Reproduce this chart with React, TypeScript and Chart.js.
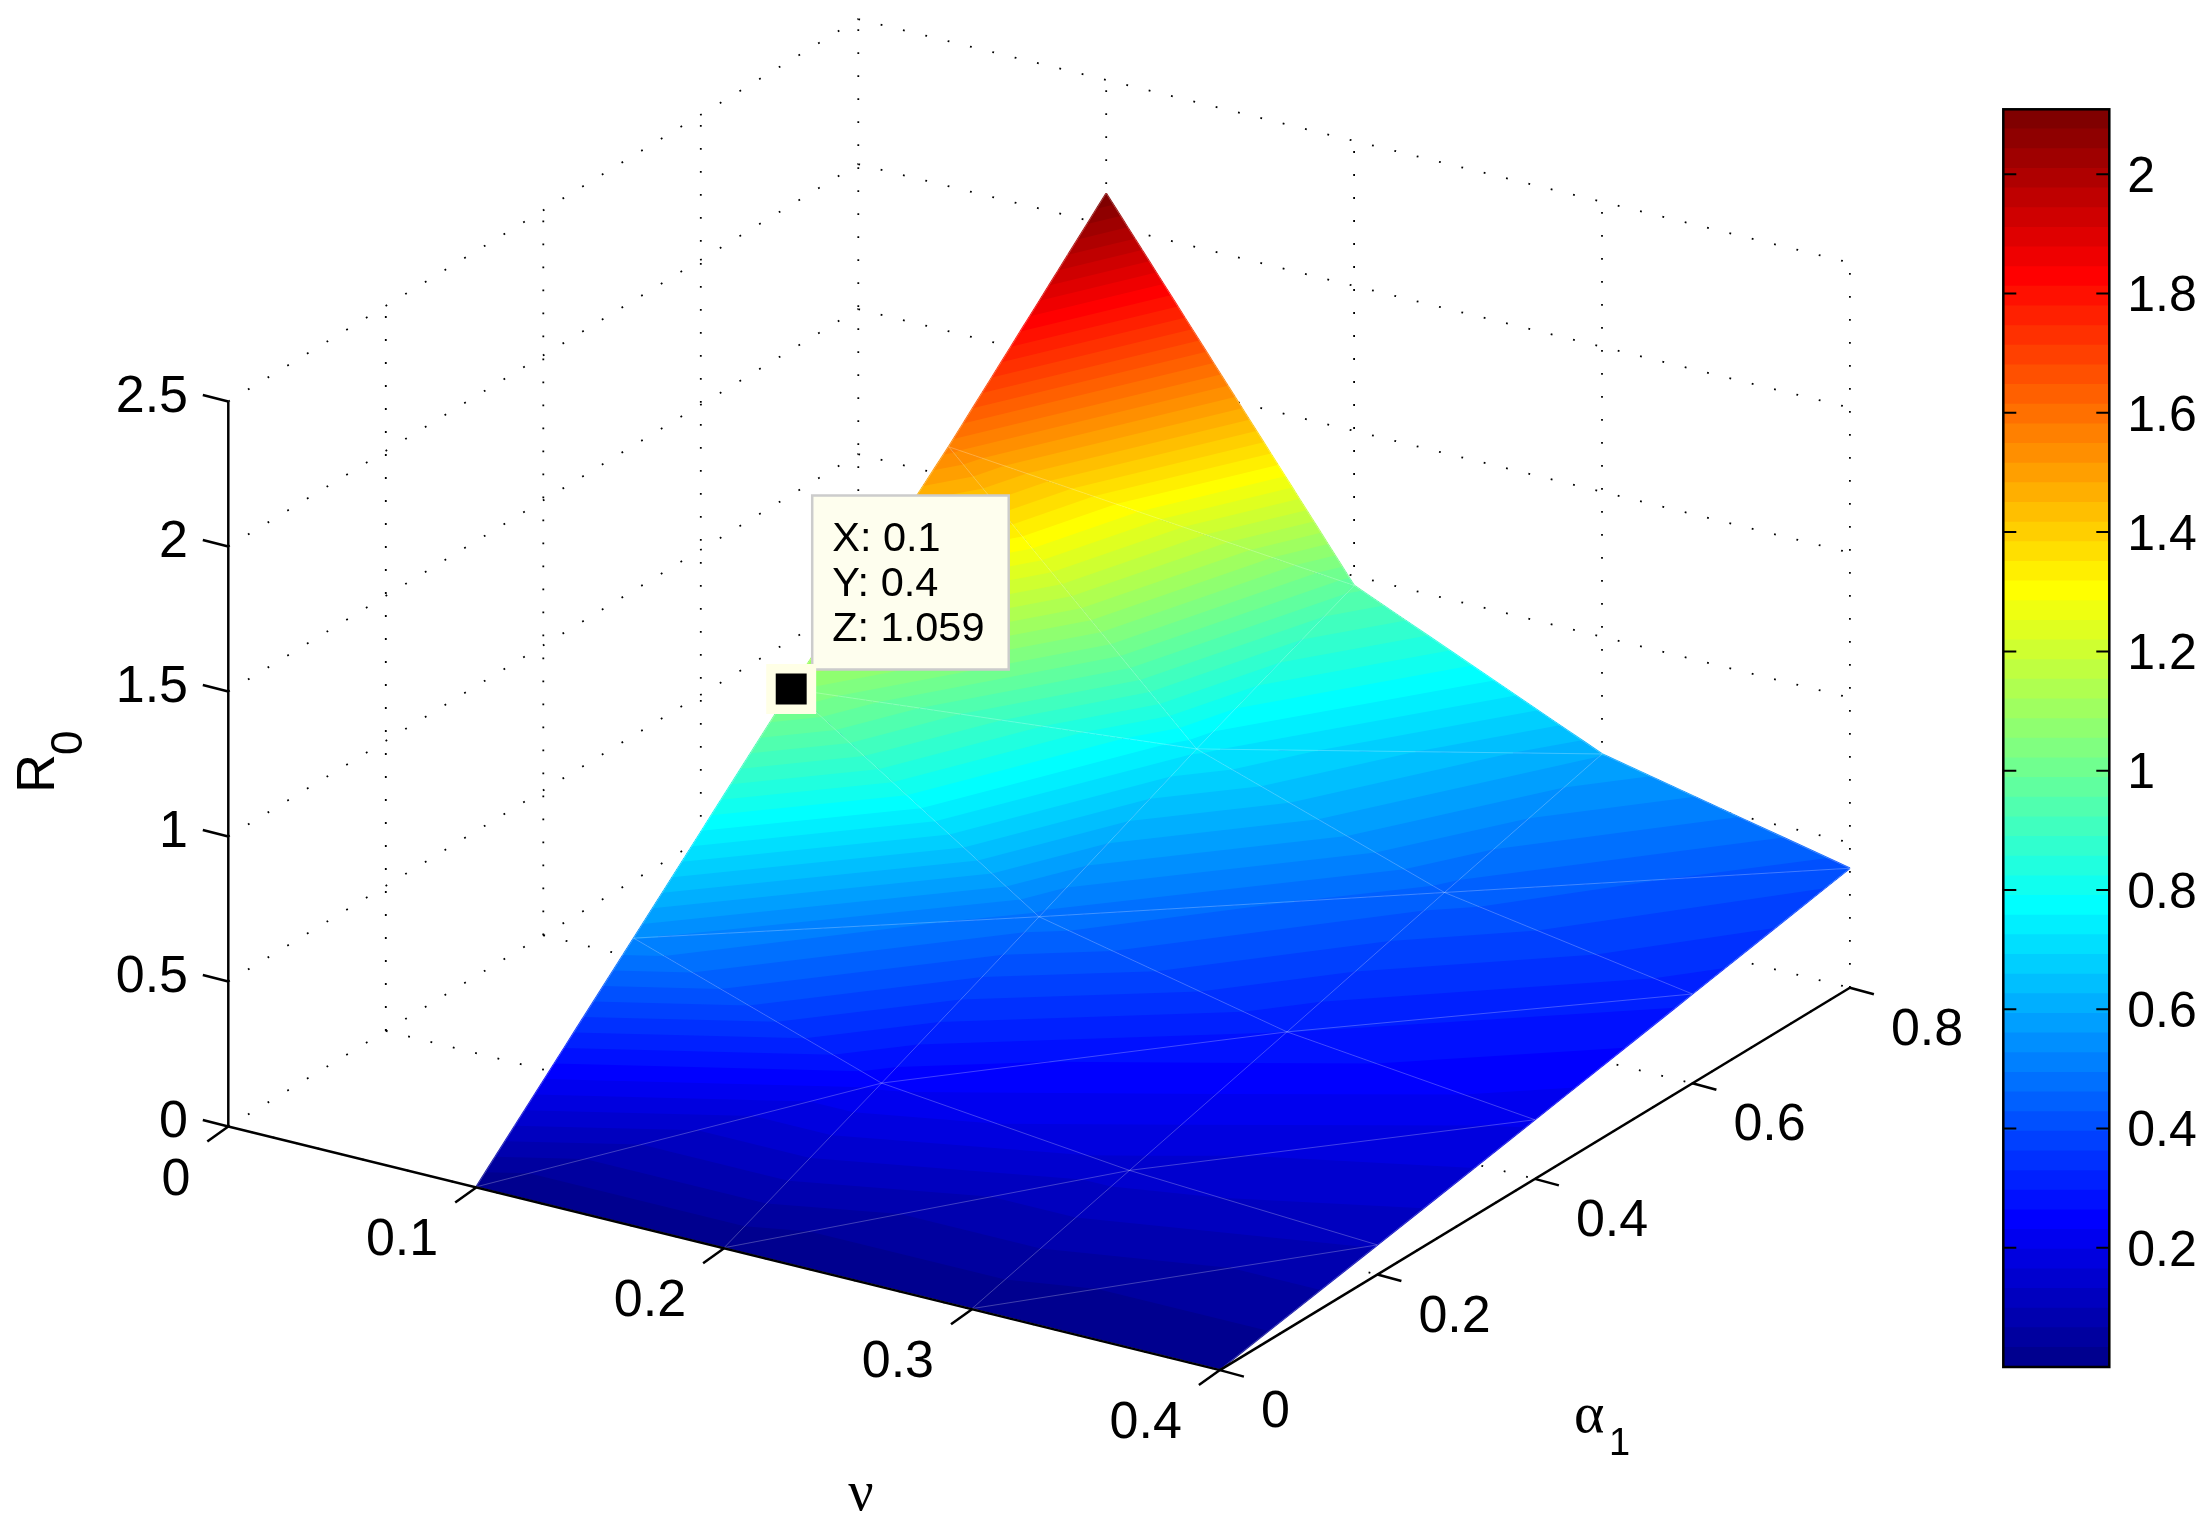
import { useEffect, useRef } from 'react';
import { Chart, registerables } from 'chart.js';

Chart.register(...registerables);

const SANS = '"Liberation Sans", Arial, sans-serif';
const SERIF = '"Liberation Serif", serif';

// axis ticks
const nuTicks = [0, 0.1, 0.2, 0.3, 0.4];
const alphaTicks = [0, 0.2, 0.4, 0.6, 0.8];
const zTicks = [0, 0.5, 1, 1.5, 2, 2.5];
const colorbarTicks = [0.2, 0.4, 0.6, 0.8, 1, 1.2, 1.4, 1.6, 1.8, 2];

// surface grid
const nuGrid = [0.1, 0.2, 0.3, 0.4];
const alphaGrid = [0, 0.2, 0.4, 0.6, 0.8];
const r0AtNu1 = [0.002, 0.53, 1.059, 1.565, 2.109];
const r0AtNu2 = [0.002, 0.24, 0.484, 0.733, 0.967];
const r0AtNu3 = [0.002, 0.149, 0.297, 0.448, 0.596];
const r0AtNu4 = [0.002, 0.102, 0.204, 0.308, 0.412];
const r0Rows = [r0AtNu1, r0AtNu2, r0AtNu3, r0AtNu4];

// the data tip
const tipPoint = { nu: 0.1, alpha: 0.4, z: 1.059 };
const tipLines = ['X: 0.1', 'Y: 0.4', 'Z: 1.059'];

const C_MIN = 0;
const C_MAX = 2.109;
const LEVELS = 64;
const LEVEL_STEP = (C_MAX - C_MIN) / LEVELS;

// matlab style jet, k = 1..64
function jetChannel(i: number) {
  if (i < 1 || i > 47) return 0;
  if (i <= 16) return i / 16;
  if (i <= 31) return 1;
  return (48 - i) / 16;
}

function jet(k: number) {
  const r = jetChannel(k - 24);
  const g = jetChannel(k - 8);
  const b = jetChannel(k + 8);
  return `rgb(${Math.round(r * 255)},${Math.round(g * 255)},${Math.round(b * 255)})`;
}

// fixed 3d view, orthographic
function project(nu: number, alpha: number, z: number) {
  return {
    x: 228.3 + 2479 * nu + 787.5 * alpha,
    y: 1126.5 + 609 * nu - 478 * alpha - 290 * z,
  };
}

type Pt = { x: number; y: number };
type Vtx = Pt & { z: number };

function line(label: string, data: Pt[], style: any) {
  return { label, data, showLine: true, pointRadius: 0, fill: false, ...style };
}

const Z_TOP = zTicks[zTicks.length - 1];
const NU_MAX = nuTicks[nuTicks.length - 1];
const ALPHA_MAX = alphaTicks[alphaTicks.length - 1];

function gridDatasets() {
  const dotted = { borderColor: '#000', borderWidth: 1.8, borderDash: [1.8, 21.2], order: 5 };
  const out: any[] = [];
  // floor
  nuTicks.forEach((nu) => out.push(line('grid', [project(nu, 0, 0), project(nu, ALPHA_MAX, 0)], dotted)));
  alphaTicks.forEach((a) => out.push(line('grid', [project(0, a, 0), project(NU_MAX, a, 0)], dotted)));
  // back walls
  zTicks.slice(1).forEach((z) => {
    out.push(line('grid', [project(0, 0, z), project(0, ALPHA_MAX, z)], dotted));
    out.push(line('grid', [project(0, ALPHA_MAX, z), project(NU_MAX, ALPHA_MAX, z)], dotted));
  });
  alphaTicks.slice(1).forEach((a) => out.push(line('grid', [project(0, a, 0), project(0, a, Z_TOP)], dotted)));
  nuTicks.slice(1).forEach((nu) => out.push(line('grid', [project(nu, ALPHA_MAX, 0), project(nu, ALPHA_MAX, Z_TOP)], dotted)));
  return out;
}

function wireDatasets() {
  const wire = { borderColor: 'rgba(255,255,255,0.25)', borderWidth: 1, order: 3 };
  const out: any[] = [];
  const vtx = (i: number, j: number) => project(nuGrid[i], alphaGrid[j], r0Rows[i][j]);
  nuGrid.forEach((_, i) => {
    alphaGrid.forEach((_, j) => {
      if (i + 1 < nuGrid.length) out.push(line('wire', [vtx(i, j), vtx(i + 1, j)], wire));
      if (j + 1 < alphaGrid.length) out.push(line('wire', [vtx(i, j), vtx(i, j + 1)], wire));
      if (i + 1 < nuGrid.length && j + 1 < alphaGrid.length) out.push(line('wire', [vtx(i, j), vtx(i + 1, j + 1)], wire));
    });
  });
  return out;
}

function axisDatasets() {
  const solid = { borderColor: '#000', borderWidth: 2.5, order: 2 };
  const out: any[] = [
    line('axis', [project(0, 0, 0), project(NU_MAX, 0, 0)], solid),
    line('axis', [project(NU_MAX, 0, 0), project(NU_MAX, ALPHA_MAX, 0)], solid),
    line('axis', [project(0, 0, 0), project(0, 0, Z_TOP)], solid),
  ];
  const tick = (p: Pt, dx: number, dy: number) => line('axis', [p, { x: p.x + dx, y: p.y + dy }], solid);
  nuTicks.forEach((nu) => out.push(tick(project(nu, 0, 0), -21, 15)));
  alphaTicks.forEach((a) => out.push(tick(project(NU_MAX, a, 0), 24, 6.5)));
  zTicks.forEach((z) => out.push(tick(project(0, 0, z), -25.5, -6.5)));
  return out;
}

function surfaceVertices() {
  const out: Vtx[] = [];
  nuGrid.forEach((nu, i) => {
    alphaGrid.forEach((a, j) => {
      out.push({ ...project(nu, a, r0Rows[i][j]), z: r0Rows[i][j] });
    });
  });
  return out;
}

// keep the part of a polygon where z >= level
function clipAbove(poly: Vtx[], level: number) {
  const out: Vtx[] = [];
  poly.forEach((a, i) => {
    const b = poly[(i + 1) % poly.length];
    if (a.z >= level) out.push(a);
    if (a.z >= level !== b.z >= level) {
      const t = (level - a.z) / (b.z - a.z);
      out.push({ x: a.x + (b.x - a.x) * t, y: a.y + (b.y - a.y) * t, z: level });
    }
  });
  return out;
}

function fillTriangle(ctx: CanvasRenderingContext2D, tri: Vtx[]) {
  for (let k = 1; k <= LEVELS; k++) {
    const poly = k === 1 ? tri : clipAbove(tri, C_MIN + (k - 1) * LEVEL_STEP);
    if (poly.length < 3) break;
    ctx.beginPath();
    poly.forEach((p, i) => (i ? ctx.lineTo(p.x, p.y) : ctx.moveTo(p.x, p.y)));
    ctx.closePath();
    ctx.fillStyle = jet(k);
    ctx.fill();
  }
}

// repaint a shared edge band by band, the stacked antialiased fills leave it blotchy
function paintEdge(ctx: CanvasRenderingContext2D, a: Vtx, b: Vtx) {
  const [lo, hi] = a.z <= b.z ? [a, b] : [b, a];
  ctx.lineWidth = 1.6;
  for (let k = 1; k <= LEVELS; k++) {
    const z0 = Math.max(C_MIN + (k - 1) * LEVEL_STEP, lo.z);
    const z1 = Math.min(C_MIN + k * LEVEL_STEP, hi.z);
    if (z1 <= z0) continue;
    const t0 = (z0 - lo.z) / (hi.z - lo.z);
    const t1 = (z1 - lo.z) / (hi.z - lo.z);
    ctx.beginPath();
    ctx.moveTo(lo.x + (hi.x - lo.x) * t0, lo.y + (hi.y - lo.y) * t0);
    ctx.lineTo(lo.x + (hi.x - lo.x) * t1, lo.y + (hi.y - lo.y) * t1);
    ctx.strokeStyle = jet(k);
    ctx.stroke();
  }
}

function text(ctx: CanvasRenderingContext2D, s: string, x: number, y: number, font: string, align: CanvasTextAlign = 'left') {
  ctx.font = font;
  ctx.textAlign = align;
  ctx.textBaseline = 'alphabetic';
  ctx.fillStyle = '#000';
  ctx.fillText(s, x, y);
}

const surfacePlugin = {
  id: 'surface',
  afterDatasetDraw(chart: any, args: any) {
    if (chart.data.datasets[args.index].label !== 'R0 surface') return;
    const ctx: CanvasRenderingContext2D = chart.ctx;
    const pts = args.meta.data;
    const rows = nuGrid.length;
    const cols = alphaGrid.length;
    const at = (i: number, j: number): Vtx => {
      const el = pts[i * cols + j];
      return { x: el.x, y: el.y, z: r0Rows[i][j] };
    };
    ctx.save();
    for (let i = 0; i < rows - 1; i++) {
      for (let j = cols - 2; j >= 0; j--) {
        fillTriangle(ctx, [at(i, j), at(i + 1, j), at(i + 1, j + 1)]);
        fillTriangle(ctx, [at(i, j), at(i, j + 1), at(i + 1, j + 1)]);
      }
    }
    for (let i = 0; i < rows; i++) {
      for (let j = 0; j < cols; j++) {
        if (i + 1 < rows) paintEdge(ctx, at(i, j), at(i + 1, j));
        if (j + 1 < cols) paintEdge(ctx, at(i, j), at(i, j + 1));
        if (i + 1 < rows && j + 1 < cols) paintEdge(ctx, at(i, j), at(i + 1, j + 1));
      }
    }
    ctx.restore();
  },
  beforeDatasetDraw(chart: any, args: any) {
    if (chart.data.datasets[args.index].label !== 'data tip') return;
    // the box sits under the marker
    const ctx: CanvasRenderingContext2D = chart.ctx;
    const el = args.meta.data[0];
    ctx.save();
    ctx.fillStyle = '#fefeee';
    ctx.strokeStyle = '#cccccc';
    ctx.lineWidth = 2.5;
    ctx.beginPath();
    ctx.rect(el.x + 21, el.y - 193.5, 196.5, 174);
    ctx.fill();
    ctx.stroke();
    tipLines.forEach((s, i) => text(ctx, s, el.x + 41, el.y - 138 + i * 45, `41.5px ${SANS}`));
    ctx.restore();
  },
  afterDraw(chart: any) {
    const ctx: CanvasRenderingContext2D = chart.ctx;
    const { x: sx, y: sy } = chart.scales;
    const px = (p: Pt) => ({ x: sx.getPixelForValue(p.x), y: sy.getPixelForValue(p.y) });
    const font = `52px ${SANS}`;
    ctx.save();
    nuTicks.forEach((nu) => {
      const p = px(project(nu, 0, 0));
      text(ctx, String(nu), p.x - 38, p.y + 68, font, 'right');
    });
    alphaTicks.forEach((a) => {
      const p = px(project(NU_MAX, a, 0));
      text(ctx, String(a), p.x + 41, p.y + 57, font);
    });
    zTicks.forEach((z) => {
      const p = px(project(0, 0, z));
      text(ctx, String(z), 188, p.y + 10, font, 'right');
    });
    text(ctx, '\u03bd', 861, 1510, `56px ${SERIF}`, 'center');
    text(ctx, '\u03b1', 1574, 1432, `58px ${SERIF}`);
    text(ctx, '1', 1609, 1455, `38px ${SANS}`);
    ctx.translate(54, 793);
    ctx.rotate(-Math.PI / 2);
    text(ctx, 'R', 0, 0, `54px ${SANS}`);
    text(ctx, '0', 38, 28, `44px ${SANS}`);
    ctx.restore();
  },
};

const colorbarPlugin = {
  id: 'colorbarFrame',
  afterDraw(chart: any) {
    const ctx: CanvasRenderingContext2D = chart.ctx;
    const { left, right, top, bottom } = chart.chartArea;
    ctx.save();
    ctx.strokeStyle = '#000';
    ctx.lineWidth = 2;
    colorbarTicks.forEach((v) => {
      const y = chart.scales.y.getPixelForValue(v);
      ctx.beginPath();
      ctx.moveTo(left, y);
      ctx.lineTo(left + 13, y);
      ctx.moveTo(right, y);
      ctx.lineTo(right - 13, y);
      ctx.stroke();
    });
    ctx.lineWidth = 2.5;
    ctx.strokeRect(left, top, right - left, bottom - top);
    ctx.restore();
  },
};

export default function App() {
  const mainRef = useRef<HTMLCanvasElement>(null);
  const barRef = useRef<HTMLCanvasElement>(null);

  useEffect(() => {
    if (!mainRef.current || !barRef.current) return;

    const main = new Chart(mainRef.current, {
      type: 'scatter',
      data: {
        datasets: [
          ...gridDatasets(),
          { label: 'R0 surface', data: surfaceVertices(), pointRadius: 0, showLine: false, order: 4 },
          ...wireDatasets(),
          ...axisDatasets(),
          {
            label: 'data tip',
            data: [project(tipPoint.nu, tipPoint.alpha, tipPoint.z)],
            pointStyle: 'rect',
            pointRadius: 28.6,
            borderWidth: 9.5,
            backgroundColor: '#000',
            borderColor: '#ffffe6',
            order: 1,
          },
        ] as any,
      },
      options: {
        responsive: false,
        animation: false,
        events: [],
        layout: { padding: 0, autoPadding: false },
        plugins: { legend: { display: false }, tooltip: { enabled: false } },
        scales: {
          x: { type: 'linear', min: 0, max: 2211, display: false },
          y: { type: 'linear', min: 0, max: 1524, reverse: true, display: false },
        },
      },
      plugins: [surfacePlugin],
    });

    // colorbar: one floating bar per colormap level, the lowest is painted last
    const levels = Array.from({ length: LEVELS }, (_, k) => k + 1);
    const bar = new Chart(barRef.current, {
      type: 'bar',
      data: {
        labels: ['R0'],
        datasets: levels.map((k) => ({
          label: `level ${k}`,
          data: [[C_MIN, C_MIN + k * LEVEL_STEP]],
          backgroundColor: jet(k),
          borderWidth: 0,
          grouped: false,
          barPercentage: 1,
          categoryPercentage: 1,
        })) as any,
      },
      options: {
        responsive: false,
        animation: false,
        events: [],
        layout: { padding: { left: 13.3, right: 0, top: 109.3, bottom: 157 } },
        plugins: { legend: { display: false }, tooltip: { enabled: false } },
        scales: {
          x: { display: false },
          y: {
            type: 'linear',
            position: 'right',
            min: C_MIN,
            max: C_MAX,
            border: { display: false },
            grid: { display: false, drawTicks: false },
            afterFit(scale: any) {
              scale.width = 101.7;
            },
            afterBuildTicks(scale: any) {
              scale.ticks = colorbarTicks.map((value) => ({ value }));
            },
            ticks: {
              color: '#000',
              padding: 18,
              labelOffset: 4,
              font: { family: SANS, size: 50 },
              callback: (v: any) => String(v),
            },
          },
        },
      },
      plugins: [colorbarPlugin],
    });

    return () => {
      main.destroy();
      bar.destroy();
    };
  }, []);

  return (
    <div style={{ position: 'absolute', left: 0, top: 0, width: 2211, height: 1524, overflow: 'hidden', background: '#fff' }}>
      <canvas ref={mainRef} width={2211} height={1524} style={{ position: 'absolute', left: 0, top: 0 }} />
      <canvas ref={barRef} width={221} height={1524} style={{ position: 'absolute', left: 1990, top: 0 }} />
    </div>
  );
}
